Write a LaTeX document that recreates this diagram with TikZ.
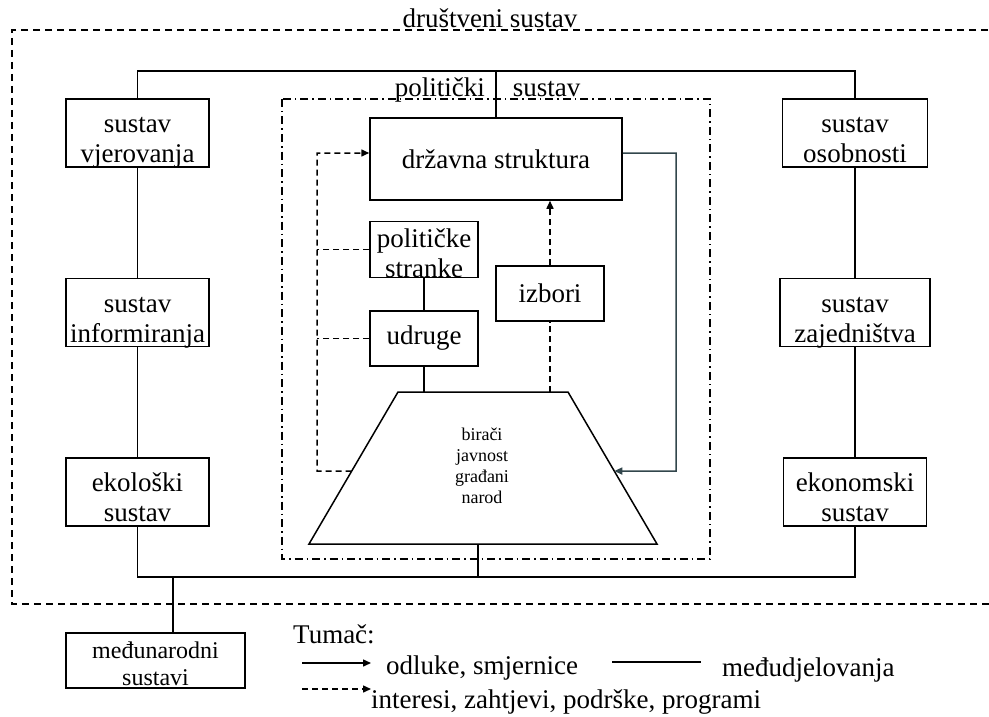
\documentclass[tikz,border=0pt]{standalone}
\usepackage{fontspec}
\setmainfont{Liberation Serif}
\usetikzlibrary{arrows.meta,positioning,calc}
\definecolor{slatearrow}{RGB}{50,70,76}
\newcommand{\boxfont}{\fontsize{27}{30}\selectfont}
\newcommand{\smallboxfont}{\fontsize{24}{27}\selectfont}
\newcommand{\crowdfont}{\fontsize{18}{21}\selectfont}

\begin{document}
\begin{tikzpicture}[x=1pt, y=-1pt,
        sysbox/.style={draw, line width=1.5pt, align=center, inner sep=0pt, font=\boxfont, minimum width=143pt, minimum height=68pt, text height=60pt, text depth=1pt},
        unitbox/.style={draw, line width=1.5pt, align=center, inner sep=0pt, font=\boxfont, minimum width=108pt, minimum height=55pt},
        caption/.style={font=\boxfont, inner sep=0pt, anchor=base},
        link/.style={line width=1.5pt},
        headed/.style={-{Triangle[length=8pt,width=7pt]}},
        decide/.style={line width=1.5pt, headed},
        demand/.style={line width=1.5pt, dash pattern=on 6pt off 4pt},
        socframe/.style={line width=1.5pt, dash pattern=on 7pt off 5pt},
        polframe/.style={line width=1.3pt, dash pattern=on 8pt off 4pt on 1.5pt off 4pt}
    ]
        \useasboundingbox (0,0) rectangle (989,717);

        % Frames
        \draw[socframe] (1000,30) -| (12,604) -- (1000,604);
        \node[caption] (social) at (490,28) {društveni sustav};
        \draw[polframe] (282,99) rectangle (710,559);
        \node[caption] (political) at (487.5,97) {politički\hspace{28pt}sustav};

        % Surrounding systems
        \node[sysbox] (belief) at (137.5,133) {sustav\\vjerovanja};
        \node[sysbox, below=110pt of belief] (inform) {sustav\\informiranja};
        \node[sysbox, below=110pt of inform] (ecology) {ekološki\\sustav};
        \node[sysbox, minimum width=145pt] (person) at (855,133) {sustav\\osobnosti};
        \node[sysbox, minimum width=150pt, below=110pt of person] (commun) {sustav\\zajedništva};
        \node[sysbox, below=110pt of commun] (economy) {ekonomski\\sustav};
        \node[sysbox, minimum width=179pt, minimum height=55pt, font=\smallboxfont, text height=49pt, text depth=0pt] (intl) at (155.5,660.5) {međunarodni\\sustavi};

        % Political system
        \node[unitbox, minimum width=252pt, minimum height=82pt] (state) at (496,159) {državna struktura};
        \node[unitbox, text height=56pt, text depth=-3pt] (parties) at (424,249.5) {političke\\stranke};
        \node[unitbox, below=32pt of parties] (assoc) {udruge};
        \node[unitbox] (elect) at (550,293.5) {izbori};

        % Citizens
        \coordinate (tl) at (398,392);
        \coordinate (tr) at (568,392);
        \coordinate (br) at (657,544);
        \coordinate (bl) at (309,544);
        \draw[link] (tl) -- (tr) -- (br) -- (bl) -- cycle;
        \node[font=\crowdfont, align=center, anchor=base, inner sep=0pt] (citizens) at (482,503) {birači\\javnost\\građani\\narod};

        % Interaction frame
        \coordinate (fnw) at (belief.north |- 0,71);
        \coordinate (fne) at (person.north |- 0,71);
        \coordinate (fsw) at (ecology.south |- 0,577);
        \coordinate (fse) at (economy.south |- 0,577);
        \coordinate (base) at (478,544);
        \coordinate (intlup) at (173,577);

        % Interactions
        \draw[link] (belief.north) -- (fnw) -- (fne) -- (person.north);
        \draw[link] (belief) -- (inform);
        \draw[link] (inform) -- (ecology);
        \draw[link] (person) -- (commun);
        \draw[link] (commun) -- (economy);
        \draw[link] (ecology.south) -- (fsw) -- (fse) -- (economy.south);
        \draw[link] (state.north |- fnw) -- (state.north);
        \draw[link] (parties) -- (assoc);
        \draw[link] (assoc.south) -- (assoc.south |- tl);
        \draw[link] (base) -- (base |- fsw);
        \draw[link] (intlup) -- (intlup |- intl.north);

        % Decisions
        \coordinate (turn) at (676,471);
        \draw[decide, slatearrow] ([yshift=6pt]state.east) -| (turn) -- ($(br)!0.48!(tr)$);

        % Interests and demands
        \coordinate (loop) at (317,471);
        \draw[demand, headed] ($(bl)!0.48!(tl)$) -- (loop) |- ([yshift=6pt]state.west);
        \draw[demand] (parties.west) -- (parties.west -| loop);
        \draw[demand] (assoc.west) -- (assoc.west -| loop);
        \draw[demand] (elect.south |- tl) -- (elect.south);
        \draw[demand, headed] (elect.north) -- (elect.north |- state.south);

        % Legend
        \node[caption, anchor=base west] (key) at (293,643) {Tumač:};
        \coordinate (keyarrow) at (302,663);
        \draw[decide] (keyarrow) -- ++(69,0);
        \node[caption, anchor=base west] (keydecide) at (386,674) {odluke, smjernice};
        \coordinate (keyplain) at (612,662);
        \draw[link] (keyplain) -- ++(89,0);
        \node[caption, anchor=base west] (keylink) at (722,676) {međudjelovanja};
        \coordinate (keydash) at (302,689);
        \draw[demand, headed] (keydash) -- ++(69,0);
        \node[caption, anchor=base west] (keydemand) at (371,708) {interesi, zahtjevi, podrške, programi};

    \end{tikzpicture}
\end{document}
